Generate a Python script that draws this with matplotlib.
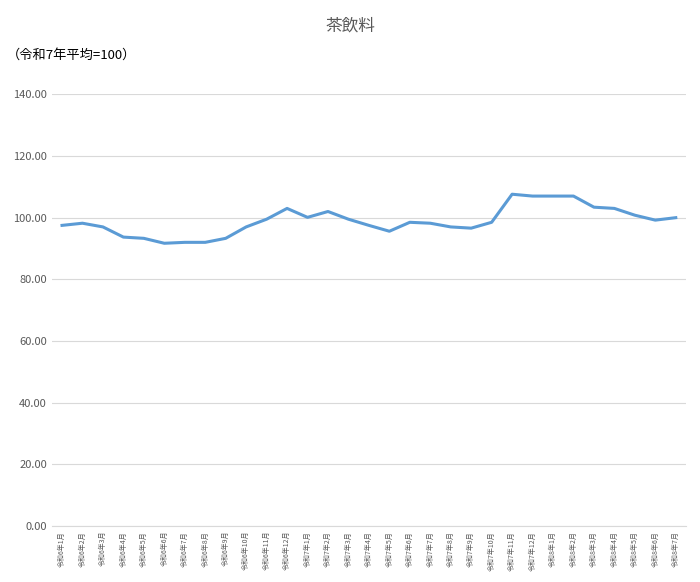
import matplotlib.pyplot as plt
import numpy as np

plt.rcParams['font.family'] = ['Noto Sans CJK JP', 'DejaVu Sans']

months = ([f"令和6年{m}月" for m in range(1, 13)]
          + [f"令和7年{m}月" for m in range(1, 13)]
          + [f"令和8年{m}月" for m in range(1, 8)])
values = [97.5, 98.2, 97.0, 93.7, 93.3, 91.7, 92.0, 92.0, 93.3, 97.0, 99.5, 103.0,
          100.1, 102.0, 99.5, 97.5, 95.6, 98.5, 98.2, 97.0, 96.6, 98.5, 107.6, 107.0,
          107.0, 107.0, 103.4, 103.0, 100.8, 99.2, 100.0]

fig = plt.figure(figsize=(7, 5.82), dpi=100)
ax = fig.add_axes([0.074, 0.096, 0.906, 0.742])
x = np.arange(len(months))
ax.plot(x, values, color='#5b9bd5', linewidth=2.2)

ax.set_ylim(0, 140)
ax.set_yticks(np.arange(0, 141, 20))
ax.set_yticklabels([f"{v:.2f}" for v in np.arange(0, 141, 20)], fontsize=8, color='#595959')
ax.set_xlim(-0.5, len(months) - 0.5)
ax.set_xticks(x)
ax.set_xticklabels(months, rotation=90, fontsize=5, color='#595959')
ax.tick_params(length=0)
ax.grid(axis='y', color='#d9d9d9', linewidth=0.8)
ax.set_axisbelow(True)
for s in ['top', 'right', 'left']:
    ax.spines[s].set_visible(False)
ax.spines['bottom'].set_color('#d9d9d9')

fig.text(0.5, 0.955, "茶飲料", ha='center', va='center', fontsize=12, color='#595959')
fig.text(0.01, 0.905, "（令和7年平均=100）", ha='left', va='center', fontsize=9.5, color='#000000')

fig.savefig("out.png")
